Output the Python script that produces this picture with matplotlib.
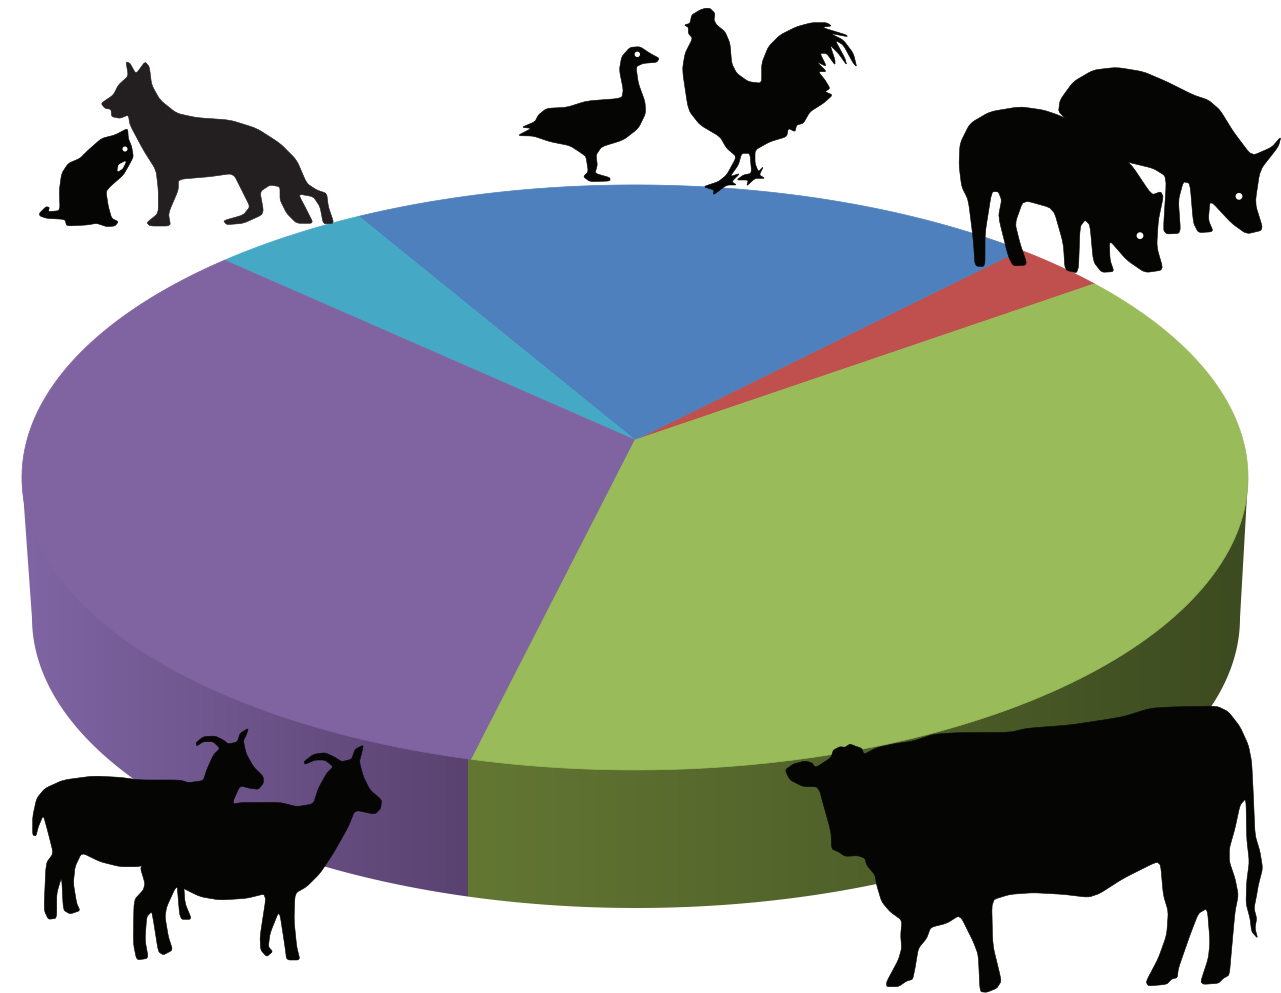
import numpy as np
import matplotlib
matplotlib.use('Agg')
import matplotlib.pyplot as plt
from matplotlib.colors import LinearSegmentedColormap
from matplotlib.patches import Polygon, Circle

# share of each species, going counter clockwise from the red slice
species = ['Pigs', 'Poultry', 'Pets', 'Small ruminants', 'Cattle']
shares = [2.9, 20.6, 4.7, 33.1, 38.7]
slice_colors = ['#c0504d', '#4d80bd', '#45a9c5', '#8063a1', '#9abb59']
start_angle = 35.7

# silhouettes: points are in 3x crop pixels
cow = [(45,225),(70,207),(105,198),(125,203),(137,218),(183,188),(190,165),(210,155),(225,157),(240,147),(255,153),(275,160),(282,178),(320,158),(370,147),(430,138),(490,118),(560,113),(720,112),(770,100),(900,90),(1000,75),(1060,65),(1140,40),(1200,36),(1340,33),(1375,50),(1410,95),(1435,150),(1445,200),(1450,300),(1455,420),(1470,470),(1478,520),(1465,570),(1460,600),(1452,640),(1460,670),(1455,700),(1463,730),(1445,710),(1440,670),(1428,625),(1430,560),(1438,500),(1430,430),(1428,310),(1410,330),(1395,400),(1378,460),(1378,500),(1395,550),(1405,600),(1395,650),(1385,760),(1378,840),(1360,850),(1345,865),(1300,868),(1292,860),(1315,790),(1320,740),(1312,640),(1285,655),(1260,720),(1225,820),(1222,848),(1205,852),(1190,868),(1135,873),(1128,860),(1165,790),(1190,720),(1195,650),(1180,600),(1172,510),(1160,500),(1060,550),(990,595),(955,607),(880,598),(790,593),(720,598),(665,615),(668,750),(690,840),(693,860),(680,880),(650,892),(630,890),(625,780),(610,740),(570,660),(530,685),(482,697),(470,730),(445,760),(435,820),(428,853),(410,858),(385,875),(350,875),(350,860),(385,795),(395,760),(392,720),(396,676),(360,650),(335,620),(320,570),(315,540),(290,510),(285,490),(265,482),(225,484),(205,470),(185,462),(183,410),(155,310),(150,290),(140,275),(100,275),(60,255)]
goat_back = [(38,345),(38,290),(50,235),(75,205),(130,180),(220,168),(300,172),(360,180),(480,180),(505,188),(550,182),(560,150),(580,105),(600,85),(580,65),(550,65),(530,78),(528,68),(550,50),(585,48),(610,60),(625,72),(652,66),(660,40),(685,25),(680,42),(670,62),(678,100),(700,140),(730,170),(730,190),(715,208),(690,205),(660,197),(636,250),(700,400),(500,470),(400,420),(360,440),(300,440),(240,425),(185,398),(165,440),(160,490),(170,550),(180,572),(150,582),(130,570),(125,470),(110,520),(110,595),(85,598),(72,570),(78,430),(100,400),(85,340),(70,285),(55,320),(48,348)]
goat_back_leg = [(470,480),(480,598),(515,598),(495,550),(490,480)]
goat_front = [(630,248),(780,247),(830,260),(880,252),(895,205),(920,160),(940,140),(915,120),(885,120),(855,133),(852,125),(880,103),(915,98),(945,112),(965,125),(995,118),(1005,88),(1030,75),(1025,100),(1018,125),(1030,170),(1050,210),(1085,240),(1082,265),(1065,283),(1005,270),(985,320),(940,400),(900,460),(860,500),(825,520),(822,600),(830,680),(840,720),(800,720),(795,680),(778,570),(750,640),(745,680),(758,695),(740,710),(722,690),(720,650),(740,520),(680,535),(600,540),(540,530),(470,495),(440,560),(435,590),(445,650),(458,690),(430,705),(415,695),(400,600),(395,575),(380,590),(375,660),(385,715),(350,720),(340,670),(342,540),(370,510),(375,490),(360,440),(400,400)]
dog = [(213,160),(250,135),(265,105),(295,78),(288,35),(300,40),(318,72),(345,35),(358,50),(365,105),(390,150),(440,190),(500,203),(600,210),(680,235),(750,280),(800,330),(830,400),(860,420),(890,430),(895,470),(912,520),(880,522),(870,470),(850,440),(805,432),(830,480),(850,520),(800,520),(770,490),(750,450),(750,410),(720,405),(690,425),(700,480),(695,495),(640,520),(590,524),(580,512),(640,495),(660,470),(640,430),(610,370),(540,380),(445,388),(445,420),(415,490),(422,528),(360,528),(350,518),(385,490),(385,420),(378,360),(340,300),(300,225),(295,195),(270,205),(245,200),(243,178),(225,175)]
cat = [(28,490),(48,470),(58,472),(55,485),(90,482),(88,420),(95,370),(115,340),(150,325),(175,300),(215,265),(255,255),(293,235),(295,265),(305,290),(310,320),(300,340),(280,375),(240,410),(228,425),(235,470),(245,505),(265,515),(255,528),(230,530),(200,520),(170,525),(110,528),(105,508),(50,505),(30,498)]
cat_gap = [(265,345),(288,333),(278,355),(263,365)]
goose = [(22,407),(65,385),(35,382),(75,365),(85,345),(110,325),(170,322),(230,303),(335,295),(340,270),(328,210),(335,170),(360,142),(390,140),(420,160),(448,175),(440,187),(400,190),(378,200),(385,250),(405,305),(407,340),(385,385),(340,420),(275,440),(258,465),(262,495),(255,520),(300,533),(300,543),(240,545),(220,530),(235,515),(228,470),(215,460),(180,437),(120,425),(70,408)]
rooster = [(523,75),(540,70),(545,45),(570,30),(585,25),(600,25),(615,40),(612,60),(620,75),(645,95),(660,130),(665,190),(680,220),(715,245),(755,250),(755,190),(775,140),(810,105),(860,80),(905,68),(950,68),(965,78),(935,82),(1010,105),(1012,110),(960,100),(1000,120),(1030,160),(1040,200),(1030,190),(1000,135),(975,120),(1005,175),(1010,195),(985,160),(960,135),(975,180),(975,195),(950,160),(930,160),(950,200),(920,185),(950,215),(925,215),(945,240),(960,265),(945,275),(968,285),(940,310),(900,335),(880,370),(860,375),(855,395),(835,385),(830,410),(780,425),(735,450),(735,490),(745,515),(760,500),(748,525),(765,535),(735,535),(710,558),(715,540),(680,540),(700,525),(725,520),(720,460),(695,460),(685,495),(660,530),(690,520),(665,545),(680,555),(650,555),(610,585),(612,570),(580,560),(625,545),(650,525),(680,470),(650,445),(630,410),(570,375),(535,330),(517,210),(525,160),(548,115),(535,100),(535,82)]
pig_back = [(325,160),(330,120),(370,65),(430,30),(500,22),(580,35),(650,65),(730,105),(775,120),(810,150),(850,215),(905,288),(965,262),(993,230),(985,260),(930,330),(915,430),(940,510),(890,522),(845,490),(780,420),(775,480),(790,515),(745,518),(730,488),(720,370),(700,365),(685,420),(692,520),(650,522),(640,510),(650,350),(610,325),(540,308),(500,300)]
pig_front = [(27,315),(30,250),(60,190),(120,155),(210,140),(280,150),(325,165),(400,200),(540,308),(605,405),(632,395),(640,410),(625,480),(620,560),(640,630),(585,638),(530,600),(478,540),(480,600),(492,635),(455,637),(430,605),(420,495),(405,480),(390,500),(385,640),(345,630),(340,550),(310,445),(220,420),(195,490),(210,550),(232,615),(190,618),(175,590),(145,470),(155,420),(145,395),(125,395),(105,520),(105,620),(75,618),(70,540),(55,420),(35,380)]


def project(theta):
    # unit circle to the tilted top face, the pie centre sits above the ellipse centre
    k, a, b = 0.128, 608, 287.7
    u, v = np.cos(theta), np.sin(theta)
    x = a * u / (1 + k * v)
    y = b * v / (1 + k * v)
    return 635 + x, 440 - y


def smooth(pts, rounds=2, cut=0.14):
    # light corner cutting, takes the hard edges off the traced outlines
    for _ in range(rounds):
        nxt = np.roll(pts, -1, axis=0)
        pts = np.column_stack([(1 - cut) * pts + cut * nxt, cut * pts + (1 - cut) * nxt]).reshape(-1, 2)
    return pts


def draw_shape(ax, origin, pts, color='#050604', zorder=5):
    pts = smooth(np.array(pts, dtype=float) / 3 + origin)
    ax.add_patch(Polygon(pts, closed=True, facecolor=color, edgecolor=color, lw=0.4, zorder=zorder))


def draw_side(ax, x0, x1, rgb0, rgb1, clip):
    cmap = LinearSegmentedColormap.from_list('side', [rgb0, rgb1])
    im = ax.imshow(np.linspace(0, 1, 64)[None, :], extent=(x0, x1, 920, 470), cmap=cmap,
                   aspect='auto', zorder=1, interpolation='bilinear')
    im.set_clip_path(clip)


fig = plt.figure(figsize=(12.81, 9.93), dpi=100)
ax = fig.add_axes([0, 0, 1, 1])

# the rim under the top face
t = np.linspace(np.pi, 2 * np.pi, 200)
rim_x = 636 + 604 * np.cos(t)
rim_y = 618 - 290 * np.sin(t)
rim = np.vstack([[(22, 478)], np.column_stack([rim_x, rim_y]), [(1248, 478)]])
clip = Polygon(rim, closed=True, transform=ax.transData, facecolor='none', edgecolor='none')
ax.add_patch(clip)
draw_side(ax, 22, 468, '#7f65a3', '#5a4270', clip)
draw_side(ax, 468, 1248, '#637733', '#3d4b20', clip)

# the slices
edges = start_angle + np.cumsum([0] + shares) * 360 / sum(shares)
for i in range(len(shares)):
    th = np.radians(np.linspace(edges[i], edges[i + 1], 120))
    x, y = project(th)
    pts = np.vstack([[(635, 440)], np.column_stack([x, y])])
    ax.fill(pts[:, 0], pts[:, 1], color=slice_colors[i], lw=0.5, zorder=2)

# animals on top
draw_shape(ax, (30, 50), dog, color='#231f20')
draw_shape(ax, (30, 50), cat)
draw_shape(ax, (30, 50), cat_gap, color='white', zorder=6)
ax.add_patch(Circle((30 + 285 / 3, 50 + 297 / 3), 1.8, color='white', zorder=6))
draw_shape(ax, (510, 0), goose)
draw_shape(ax, (510, 0), rooster)
ax.add_patch(Circle((510 + 382 / 3, 163 / 3), 2, color='white', zorder=6))
draw_shape(ax, (950, 60), pig_back)
draw_shape(ax, (950, 60), pig_front)
ax.add_patch(Circle((950 + 867 / 3, 60 + 409 / 3), 2.7, color='white', zorder=6))
ax.add_patch(Circle((950 + 570 / 3, 60 + 527 / 3), 2.7, color='white', zorder=6))
draw_shape(ax, (20, 720), goat_back)
draw_shape(ax, (20, 720), goat_back_leg)
draw_shape(ax, (20, 720), goat_front)
draw_shape(ax, (770, 695), cow)

ax.set_xlim(0, 1281)
ax.set_ylim(993, 0)
ax.axis('off')
fig.savefig('out.png', dpi=100)
